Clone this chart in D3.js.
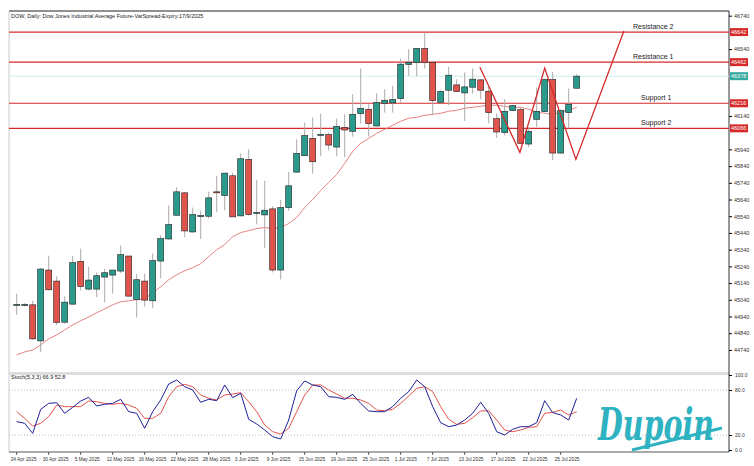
<!DOCTYPE html>
<html><head><meta charset="utf-8">
<script src="https://cdn.jsdelivr.net/npm/d3@7"></script>
<style>body{margin:0;background:#fff}svg{display:block;font-family:"Liberation Sans",Arial,sans-serif}</style>
</head><body><svg id="c" width="754" height="466"></svg>
<script>
const opens=[45010,45010,45010,44794,45218,45152,44906,45014,45270,45104,45104,45176,45188,45212,45302,45042,45152,45034,45272,45404,45546,45680,45446,45544,45540,45686,45664,45782,45542,45880,45560,45548,45584,45218,45592,45804,45902,46006,46028,46028,45954,46072,46048,46154,46180,46080,46216,46218,46244,46448,46460,46544,46460,46222,46294,46326,46278,46312,46356,46288,46124,46040,46172,46178,45972,46120,46166,46358,45918,46160,46306];
const highs=[45076,45020,45034,45230,45304,45180,45060,45302,45346,45238,45204,45224,45218,45364,45302,45194,45196,45316,45426,45604,45714,45684,45592,45574,45686,45780,45800,45800,45916,45940,45758,45752,45600,45638,45804,46000,46100,46130,46152,46040,46124,46150,46270,46424,46210,46276,46300,46320,46484,46540,46544,46640,46464,46294,46434,46360,46400,46424,46360,46320,46154,46240,46204,46188,46074,46310,46364,46404,46180,46304,46390];
const lows=[44950,45000,44800,44726,45096,44888,44898,45010,45096,45096,45056,45024,45076,45200,45060,44934,45000,44990,45170,45400,45544,45414,45442,45404,45526,45564,45576,45536,45540,45544,45492,45350,45204,45162,45572,45800,45900,45794,45900,45934,45898,45894,46016,46094,46016,46076,46160,46160,46220,46380,46376,46424,46144,46216,46204,46284,46110,46274,46240,46096,46008,46024,46170,45974,45954,46074,46164,45876,45914,46066,46304];
const closes=[45012,45012,44806,45224,45100,44904,45026,45262,45120,45158,45184,45202,45218,45310,45062,45160,45038,45274,45406,45490,45686,45452,45550,45544,45650,45682,45798,45536,45884,45550,45562,45576,45218,45592,45722,45916,46022,45866,46030,45966,46078,46056,46150,46186,46094,46220,46234,46238,46450,46460,46544,46460,46232,46286,46384,46286,46314,46360,46294,46160,46044,46168,46202,45976,46048,46168,46358,45918,46172,46210,46378];
const ma=[44710,44728,44740,44770,44806,44830,44860,44890,44914,44938,44962,44986,45010,45028,45034,45040,45046,45082,45118,45160,45190,45214,45232,45256,45298,45340,45370,45418,45442,45454,45466,45472,45466,45472,45496,45532,45592,45640,45694,45742,45790,45856,45928,45976,46006,46036,46060,46084,46108,46126,46132,46144,46150,46156,46168,46174,46186,46192,46198,46204,46204,46198,46192,46192,46180,46162,46156,46150,46162,46174,46192];
const stochK=[37.8,35.6,22.2,54.2,62.2,63.1,48.9,56.9,65.3,70.2,58.7,60.9,62.2,67.6,51.1,48.9,28.9,51.1,66.7,88,93.3,84.4,80,63.6,67.6,65.8,86.7,69.8,75.6,40.9,34.7,26.7,17.8,14.7,40,79.1,92,86.7,84.4,71.1,70.2,67.6,74.2,62.2,52,51.1,51.1,57.8,68.9,77.8,93.3,84.4,57.8,36.4,31.1,33.3,40,48.9,63.6,48.9,24.4,20,27.6,31.1,31.1,36.4,65.8,49.8,46.7,40,68.9];
const stochD=[51.1,42.2,32,35.6,44.4,60,57.8,57.8,57.8,65.3,64.4,62.2,60.9,62.2,60,55.6,42.2,42.2,48.9,71.1,84.4,87.6,84.4,73.3,68.9,66.7,73.3,74.7,76.4,64.4,51.1,33.3,24.4,21.3,28.9,51.1,73.3,86.7,86.7,80,74.7,68.9,68.9,66.7,62.2,53.3,52.4,54.2,62.2,72,82.2,84.4,77.8,57.8,40.9,34.2,35.6,43.1,52,52.4,40,26.7,24.4,26.7,30.2,31.1,48.9,50.2,53.3,46.7,51.1];
const dateLabels=["24 Apr 2025","30 Apr 2025","5 May 2025","12 May 2025","16 May 2025","22 May 2025","28 May 2025","3 Jun 2025","9 Jun 2025","15 Jun 2025","19 Jun 2025","25 Jun 2025","1 Jul 2025","7 Jul 2025","13 Jul 2025","17 Jul 2025","22 Jul 2025","25 Jul 2025"];
const levelNames=["Resistance 2","Resistance 1","Support 1","Support 2"];
const levelValues=[46642,46462,46216,46066];
const patternIdx=[57.9,62.9,66,69.9,75.9];
const patternVal=[46432,45922,46426,45880,46648];
const priceTicks=[44740,44840,44940,45040,45140,45240,45340,45440,45540,45640,45740,45840,45940,46040,46140,46240,46340,46440,46540,46640,46740];
const lastPrice=46378;

const svg=d3.select("#c");
const L=9,R=729,T=11,MB=371,ST=375,SB=452;
const x=d3.scaleLinear().domain([0,70]).range([16.7,576.7]);
const y=d3.scaleLinear().domain([44614,46768]).range([MB,T]);
const ys=d3.scaleLinear().domain([0,100]).range([450,375]);
const idx=d3.range(opens.length);
const GREEN="#2a9a8c",RED="#e0544c",LRED="#d62a2a";

svg.append("line").attr("x1",L).attr("x2",R).attr("y1",T).attr("y2",T).attr("stroke","#222");
svg.append("line").attr("x1",L).attr("x2",L).attr("y1",T).attr("y2",SB).attr("stroke","#ccc");
svg.append("rect").attr("x",L).attr("y",MB+1).attr("width",R-L+1).attr("height",3).attr("fill","#ddd");
svg.append("line").attr("x1",L).attr("x2",R).attr("y1",SB).attr("y2",SB).attr("stroke","#555");
svg.append("line").attr("x1",R).attr("x2",R).attr("y1",T).attr("y2",SB).attr("stroke","#333");

const marks=levelValues.concat([lastPrice]);
const shownTicks=priceTicks.filter(t=>marks.every(m=>Math.abs(y(t)-y(m))>7));
const ax=svg.append("g").attr("transform",`translate(${R},0)`).call(d3.axisRight(y).tickValues(shownTicks).tickSize(3).tickFormat(d3.format("d")));
ax.select(".domain").remove();
ax.selectAll("text").attr("font-size",5.5).attr("fill","#333").attr("dx",-1);

levelValues.forEach((v,i)=>{
  svg.append("line").attr("x1",L).attr("x2",R).attr("y1",y(v)).attr("y2",y(v)).attr("stroke",LRED).attr("stroke-width",1.2);
  svg.append("text").attr("x",i<2?633:641).attr("y",y(v)-3).attr("font-size",7).attr("fill","#222").text(levelNames[i]);
  svg.append("rect").attr("x",R+1).attr("y",y(v)-4).attr("width",18).attr("height",8).attr("fill",LRED);
  svg.append("text").attr("x",R+2).attr("y",y(v)+2).attr("font-size",5.5).attr("fill","#fff").text(v);
});
svg.append("line").attr("x1",L).attr("x2",R).attr("y1",y(lastPrice)).attr("y2",y(lastPrice)).attr("stroke","#cfeeee");
svg.append("rect").attr("x",R+1).attr("y",y(lastPrice)-4).attr("width",18).attr("height",8).attr("fill","#33a8a0");
svg.append("text").attr("x",R+2).attr("y",y(lastPrice)+2).attr("font-size",5.5).attr("fill","#fff").text(lastPrice);

svg.append("path").datum(idx).attr("fill","none").attr("stroke","#e57373").attr("stroke-width",0.9)
  .attr("d",d3.line().x(i=>x(i)).y(i=>y(ma[i])));

const g=svg.append("g");
idx.forEach(i=>{
  const up=closes[i]>=opens[i];
  g.append("line").attr("x1",x(i)).attr("x2",x(i)).attr("y1",y(highs[i])).attr("y2",y(lows[i])).attr("stroke","#aaa").attr("stroke-width",1);
  const top=y(Math.max(opens[i],closes[i])),bot=y(Math.min(opens[i],closes[i]));
  g.append("rect").attr("x",x(i)-3).attr("y",top).attr("width",6).attr("height",Math.max(bot-top,1))
   .attr("fill",up?GREEN:RED).attr("stroke","#222").attr("stroke-width",0.6);
});

svg.append("path").datum(d3.range(patternIdx.length)).attr("fill","none").attr("stroke",LRED).attr("stroke-width",1.3)
  .attr("d",d3.line().x(k=>x(patternIdx[k])).y(k=>y(patternVal[k])));

svg.append("text").attr("x",11).attr("y",18).attr("font-size",5.5).attr("fill","#222").text("DOW, Daily:  Dow Jones Industrial Average Future-VarSpread-Expiry:17/9/2025");

[80,20].forEach(v=>svg.append("line").attr("x1",L).attr("x2",R).attr("y1",ys(v)).attr("y2",ys(v)).attr("stroke","#bbb").attr("stroke-dasharray","1,2"));
const sax=svg.append("g").attr("transform",`translate(${R},0)`).call(d3.axisRight(ys).tickValues([0,20,80,100]).tickSize(3).tickFormat(d3.format(".1f")));
sax.select(".domain").remove();
sax.selectAll("text").attr("font-size",5).attr("fill","#333");
svg.append("text").attr("x",11).attr("y",379).attr("font-size",5.5).attr("fill","#222").text("Stoch(5,3,3) 66.9 52.8");

svg.append("text").attr("x",598).attr("y",440).attr("font-size",44).attr("font-weight","bold").attr("font-style","italic")
  .attr("font-family","'DejaVu Serif',serif").attr("fill","#2fb3c2").attr("textLength",116).attr("lengthAdjust","spacingAndGlyphs").text("Dupoin");
svg.append("path").attr("d","M632,450 Q690,436 722,428").attr("fill","none").attr("stroke","#2fb3c2").attr("stroke-width",3);

svg.append("path").datum(idx).attr("fill","none").attr("stroke",RED).attr("stroke-width",1)
  .attr("d",d3.line().x(i=>x(i)).y(i=>ys(stochD[i])));
svg.append("path").datum(idx).attr("fill","none").attr("stroke","#1f1f9a").attr("stroke-width",1)
  .attr("d",d3.line().x(i=>x(i)).y(i=>ys(stochK[i])));

dateLabels.forEach((t,k)=>{
  const xi=x(k*4);
  svg.append("line").attr("x1",xi).attr("x2",xi).attr("y1",SB).attr("y2",SB+3).attr("stroke","#555");
  svg.append("text").attr("x",xi-6).attr("y",461).attr("font-size",4.8).attr("fill","#333").text(t);
});
</script></body></html>
